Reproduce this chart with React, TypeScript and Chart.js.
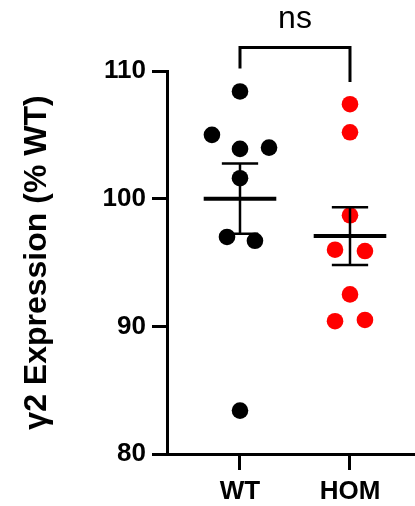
import React, { useEffect, useRef } from "react";
import { Chart, registerables } from "chart.js";

Chart.register(...registerables);

const categories = ["WT", "HOM"];
const wtValues = [108.4, 105.0, 103.9, 104.0, 101.6, 97.0, 96.7, 83.4];
const wtJitter = [0, -0.255, 0, 0.264, 0, -0.118, 0.136, 0];
const homValues = [107.4, 105.2, 98.7, 96.0, 95.9, 92.5, 90.4, 90.5];
const homJitter = [0, 0, 0, -0.136, 0.136, 0, -0.136, 0.136];
const yTicks = [80, 90, 100, 110];
const yTitle = "γ2 Expression (% WT)";
const significance = "ns";

const FONT = '"Liberation Sans", Arial, sans-serif';

function mean(a: number[]) {
  return a.reduce((s, v) => s + v, 0) / a.length;
}
function sem(a: number[]) {
  const m = mean(a);
  const v = a.reduce((s, x) => s + (x - m) * (x - m), 0) / (a.length - 1);
  return Math.sqrt(v) / Math.sqrt(a.length);
}

function summaryDatasets(values: number[], pos: number) {
  const m = mean(values);
  const s = sem(values);
  const base = {
    type: "line" as const,
    borderColor: "#000",
    pointRadius: 0,
    pointHoverRadius: 0,
    fill: false,
    clip: false as any,
    order: 0,
    borderCapStyle: "butt" as const,
  };
  return [
    { ...base, data: [{ x: pos - 0.33, y: m }, { x: pos + 0.33, y: m }], borderWidth: 4 },
    { ...base, data: [{ x: pos, y: m - s }, { x: pos, y: m + s }], borderWidth: 2.5 },
    { ...base, data: [{ x: pos - 0.165, y: m + s }, { x: pos + 0.165, y: m + s }], borderWidth: 2.5 },
    { ...base, data: [{ x: pos - 0.165, y: m - s }, { x: pos + 0.165, y: m - s }], borderWidth: 2.5 },
  ];
}

const bracketPlugin = {
  id: "bracket",
  afterDraw(chart: any) {
    const ctx = chart.ctx;
    const xs = chart.scales.x;
    const ys = chart.scales.y;
    const x1 = xs.getPixelForValue(1);
    const x2 = xs.getPixelForValue(2);
    const yTop = ys.getPixelForValue(111.85);
    const yL = ys.getPixelForValue(110.2);
    const yR = ys.getPixelForValue(109.13);
    ctx.save();
    ctx.strokeStyle = "#000";
    ctx.lineWidth = 3;
    ctx.lineJoin = "miter";
    ctx.lineCap = "butt";
    ctx.beginPath();
    ctx.moveTo(x1, yL);
    ctx.lineTo(x1, yTop);
    ctx.lineTo(x2, yTop);
    ctx.lineTo(x2, yR);
    ctx.stroke();
    ctx.fillStyle = "#000";
    ctx.font = `32px ${FONT}`;
    ctx.textAlign = "center";
    ctx.textBaseline = "alphabetic";
    ctx.fillText(significance, (x1 + x2) / 2, ys.getPixelForValue(113.33));
    ctx.restore();
  },
};

export default function App() {
  const ref = useRef<HTMLCanvasElement | null>(null);

  useEffect(() => {
    if (!ref.current) return;
    const chart = new Chart(ref.current, {
      type: "scatter",
      data: {
        datasets: [
          ...summaryDatasets(wtValues, 1),
          ...summaryDatasets(homValues, 2),
          {
            type: "scatter",
            data: wtValues.map((v, i) => ({ x: 1 + wtJitter[i], y: v })),
            backgroundColor: "#000",
            borderWidth: 0,
            pointRadius: 8.3,
            pointHoverRadius: 8.3,
            clip: false as any,
            order: 1,
          },
          {
            type: "scatter",
            data: homValues.map((v, i) => ({ x: 2 + homJitter[i], y: v })),
            backgroundColor: "#ff0000",
            borderWidth: 0,
            pointRadius: 8.3,
            pointHoverRadius: 8.3,
            clip: false as any,
            order: 1,
          },
        ] as any,
      },
      options: {
        animation: false,
        responsive: true,
        maintainAspectRatio: false,
        events: [],
        layout: { autoPadding: false, padding: { top: 71, left: 0, right: 0, bottom: 0 } },
        plugins: { legend: { display: false }, tooltip: { enabled: false } },
        scales: {
          x: {
            type: "linear",
            min: 0.3364,
            max: 2.591,
            afterBuildTicks: (scale: any) => {
              scale.ticks = categories.map((_, i) => ({ value: i + 1 }));
            },
            afterFit: (scale: any) => {
              scale.height = 52;
            },
            ticks: {
              callback: (v: any) => categories[Number(v) - 1] ?? "",
              color: "#000",
              font: { family: FONT, size: 26, weight: "bold" },
              padding: 6,
              maxRotation: 0,
              autoSkip: false,
            },
            grid: {
              drawOnChartArea: false,
              drawTicks: true,
              tickLength: 16,
              tickWidth: 3,
              tickColor: "#000",
            },
            border: { display: true, color: "#000", width: 3 },
          },
          y: {
            type: "linear",
            min: 80,
            max: 110,
            afterBuildTicks: (scale: any) => {
              scale.ticks = yTicks.map((v) => ({ value: v }));
            },
            afterFit: (scale: any) => {
              scale.width = 167;
            },
            ticks: {
              color: "#000",
              font: { family: FONT, size: 26, weight: "bold" },
              padding: 6,
              autoSkip: false,
            },
            grid: {
              drawOnChartArea: false,
              drawTicks: true,
              tickLength: 15,
              tickWidth: 3,
              tickColor: "#000",
            },
            border: { display: true, color: "#000", width: 3 },
            title: {
              display: true,
              text: yTitle,
              color: "#000",
              font: { family: FONT, size: 32, weight: "bold" },
              padding: { top: 18, bottom: 0 },
            },
          },
        },
      } as any,
      plugins: [bracketPlugin],
    });
    return () => chart.destroy();
  }, []);

  return (
    <div style={{ position: "absolute", left: 0, top: 0, width: 415, height: 506, background: "#fff" }}>
      <canvas ref={ref} />
    </div>
  );
}
